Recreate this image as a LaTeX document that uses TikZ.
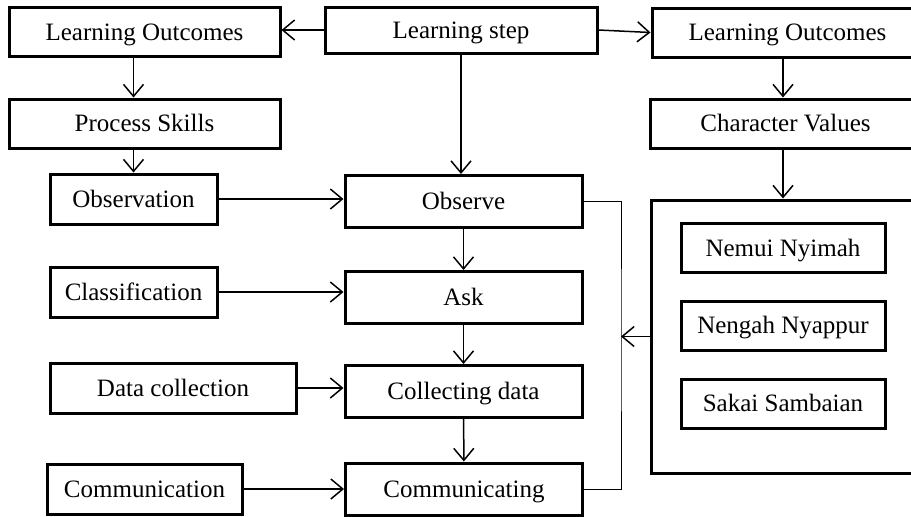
\documentclass[tikz,border=0pt]{standalone}
\usepackage{fontspec}
\setmainfont{Liberation Serif}
\usetikzlibrary{arrows.meta}

\begin{document}
\begin{tikzpicture}
			[
			x=1pt, y=-1pt,
			box/.style={draw, line width=3pt, inner sep=0pt,
				text height=19pt, text depth=3pt,
				font=\fontsize{25}{29}\selectfont},
			wide/.style={box, minimum width=271pt, minimum height=49pt},
			mid/.style={box, minimum width=237pt, minimum height=52pt},
			small/.style={box, minimum width=167pt, minimum height=50pt},
			val/.style={box, minimum width=204pt, minimum height=49pt},
			link/.style={line width=1.5pt},
			>={Straight Barb[length=12pt,width=20pt,line width=1.5pt]}]
			\clip (0,0) rectangle (911,517);
			\node (lo1) [wide]  at (144.5,32) {Learning Outcomes};
			\node (step) [box, minimum width=272pt, minimum height=46pt] at (461,30) {Learning step};
			\node (lo2) [wide]  at (787.5,32.5) {Learning Outcomes};
			\node (ps)  [wide]  at (144.5,123.5) {Process Skills};
			\node (cv)  [wide]  at (785.5,123.5) {Character Values};
			\node (obsn) [small] at (133.5,199) {Observation};
			\node (clas) [small] at (133.5,292) {Classification};
			\node (dcol) [box, minimum width=246pt, minimum height=50pt] at (173,388) {Data collection};
			\node (comn) [box, minimum width=195pt, minimum height=50pt] at (144.5,489) {Communication};
			\node (m1)  [mid]   at (463.5,201.5) {Observe};
			\node (m2)  [mid]   at (463.5,297.5) {Ask};
			\node (m3)  [mid]   at (463.5,391.5) {Collecting data};
			\node (m4)  [mid]   at (464,489) {Communicating};
			\node (big) [box, minimum width=264pt, minimum height=273pt] at (783,336.5) {};
			\node (v1)  [val]   at (783,248) {Nemui Nyimah};
			\node (v2)  [val]   at (783,325.5) {Nengah Nyappur};
			\node (v3)  [val]   at (783,403.5) {Sakai Sambaian};
			\coordinate (brk) at (621,335);
			\draw[->,link]   (step) -- (step -| lo1.east);
			\draw[->,link]   (step.east) -- (lo2.west);
			\draw[->,link]   (lo1.south -| obsn) -- (ps.north -| obsn);
			\draw[->,link]   (ps.south -| obsn) -- (obsn);
			\draw[->,link]   (lo2.south -| big) -- (cv.north -| big);
			\draw[->,link]   (cv.south -| big) -- (big);
			\draw[->,link]   (step.south) -- (step.south |- m1.north);
			\draw[->,link]   (m1) -- (m2);
			\draw[->,link]   (m2) -- (m3);
			\draw[->,link]   (m3) -- (m4);
			\draw[->,link]   (obsn) -- (m1.west |- obsn);
			\draw[->,link]   (clas) -- (m2.west |- clas);
			\draw[->,link]   (dcol) -- (m3.west |- dcol);
			\draw[->,link]   (comn) -- (m4);
			\draw[line width=0.8pt] (m1.east) -| (brk) |- (m4.east);
			\draw[->,link]   (big.west) -- (big.west -| brk);
		\end{tikzpicture}
\end{document}
